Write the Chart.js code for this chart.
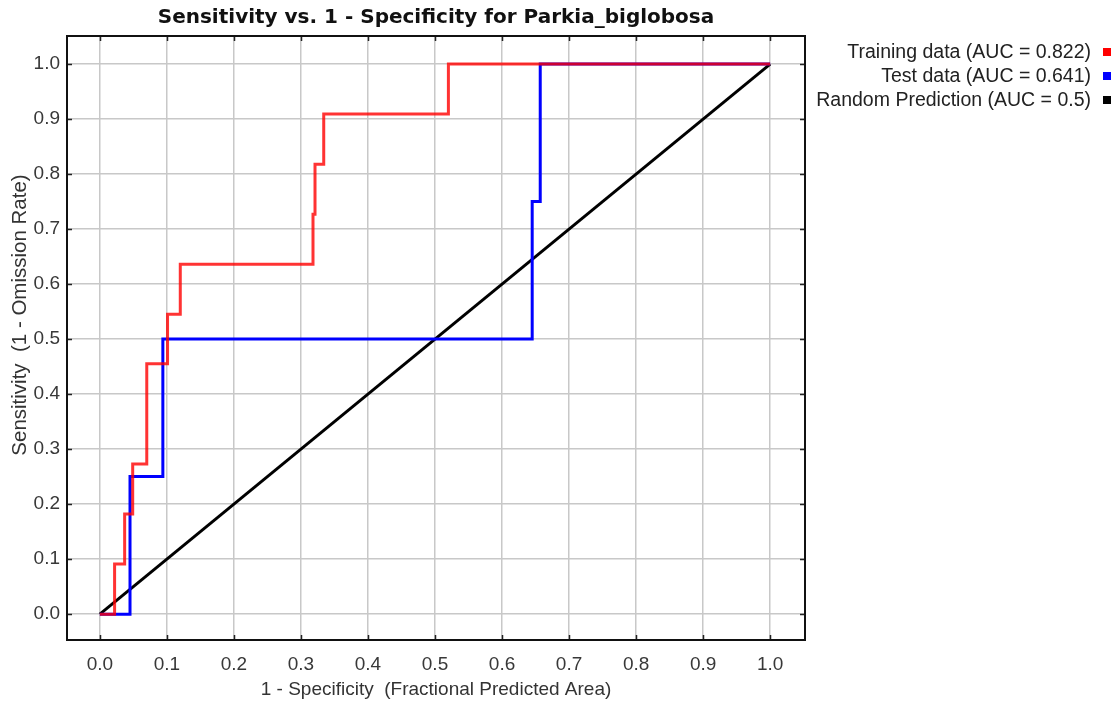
<!DOCTYPE html>
<html>
<head>
<meta charset="utf-8">
<script src="https://cdn.jsdelivr.net/npm/chart.js@4.4.1/dist/chart.umd.min.js"></script>
<style>
  html, body { margin: 0; padding: 0; background: #fff; }
  #wrap { width: 1119px; height: 704px; }
</style>
</head>
<body>
<div id="wrap"><canvas id="roc"></canvas></div>
<script>
// curvas ROC (esquinas de los escalones)
const trainFpr = [0, 0.022, 0.022, 0.037, 0.037, 0.049, 0.049, 0.070, 0.070, 0.101, 0.101, 0.120, 0.120, 0.318, 0.318, 0.321, 0.321, 0.334, 0.334, 0.520, 0.520, 1.0];
const trainTpr = [0, 0, 0.091, 0.091, 0.182, 0.182, 0.273, 0.273, 0.455, 0.455, 0.545, 0.545, 0.636, 0.636, 0.727, 0.727, 0.818, 0.818, 0.909, 0.909, 1.0, 1.0];
const testFpr = [0, 0.045, 0.045, 0.094, 0.094, 0.645, 0.645, 0.657, 0.657, 1.0];
const testTpr = [0, 0, 0.25, 0.25, 0.5, 0.5, 0.75, 0.75, 1.0, 1.0];
const randomFpr = [0, 1];
const randomTpr = [0, 1];
const tickValues = [0, 0.1, 0.2, 0.3, 0.4, 0.5, 0.6, 0.7, 0.8, 0.9, 1.0];
const seriesLabels = ['Training data (AUC = 0.822)', 'Test data (AUC = 0.641)', 'Random Prediction (AUC = 0.5)'];
const chartTitle = 'Sensitivity vs. 1 - Specificity for Parkia_biglobosa';
const xTitle = '1 - Specificity  (Fractional Predicted Area)';
const yTitle = 'Sensitivity  (1 - Omission Rate)';

const FONT = "'Liberation Sans', Arial, sans-serif";

function puntos(xs, ys) {
    return xs.map((x, i) => ({ x: x, y: ys[i] }));
}

// titulo, marco, marcas interiores, titulos de ejes y leyenda
const decoracion = {
    id: 'decoracion',
    afterDraw(chart) {
        const ctx = chart.ctx;
        const a = chart.chartArea;
        const sx = chart.scales.x, sy = chart.scales.y;
        ctx.save();
        // marcas hacia dentro
        ctx.strokeStyle = '#222';
        ctx.lineWidth = 1.5;
        ctx.beginPath();
        tickValues.forEach(v => {
            const px = Math.round(sx.getPixelForValue(v)) + 0.5;
            ctx.moveTo(px, a.bottom); ctx.lineTo(px, a.bottom - 5);
            ctx.moveTo(px, a.top); ctx.lineTo(px, a.top + 5);
            const py = Math.round(sy.getPixelForValue(v)) + 0.5;
            ctx.moveTo(a.left, py); ctx.lineTo(a.left + 5, py);
            ctx.moveTo(a.right, py); ctx.lineTo(a.right - 5, py);
        });
        ctx.stroke();
        // marco
        ctx.lineWidth = 2;
        ctx.strokeStyle = '#111';
        ctx.strokeRect(a.left, a.top, a.right - a.left, a.bottom - a.top);
        // titulo
        ctx.fillStyle = '#111';
        ctx.font = "bold 20px 'DejaVu Sans', sans-serif";
        ctx.textAlign = 'center';
        ctx.textBaseline = 'middle';
        ctx.fillText(chartTitle, (a.left + a.right) / 2, 18);
        // titulos de ejes
        ctx.fillStyle = '#333';
        ctx.font = '19px ' + FONT;
        ctx.fillText(xTitle, (a.left + a.right) / 2, 690);
        ctx.save();
        ctx.translate(20, 315);
        ctx.rotate(-Math.PI / 2);
        ctx.font = '20.5px ' + FONT;
        ctx.fillText(yTitle, 0, 0);
        ctx.restore();
        // leyenda
        ctx.font = '19.5px ' + FONT;
        ctx.textAlign = 'right';
        chart.data.datasets.forEach((ds, i) => {
            const y = 53 + i * 24;
            ctx.fillStyle = '#222';
            ctx.fillText(ds.label, 1091, y);
            ctx.fillStyle = ds.legendColor;
            ctx.fillRect(1103, y - 5, 8, 8);
        });
        ctx.restore();
    }
};

const ctx = document.getElementById('roc').getContext('2d');
new Chart(ctx, {
    type: 'line',
    data: {
        datasets: [{
            label: seriesLabels[0],
            data: puntos(trainFpr, trainTpr),
            borderColor: 'rgba(255, 0, 0, 0.8)',
            legendColor: '#ff0000',
            borderWidth: 3,
            pointRadius: 0,
            tension: 0
        }, {
            label: seriesLabels[1],
            data: puntos(testFpr, testTpr),
            borderColor: '#0000ff',
            legendColor: '#0000ff',
            borderWidth: 3,
            pointRadius: 0,
            tension: 0
        }, {
            label: seriesLabels[2],
            data: puntos(randomFpr, randomTpr),
            borderColor: '#000000',
            legendColor: '#000000',
            borderWidth: 3,
            pointRadius: 0,
            tension: 0
        }]
    },
    options: {
        responsive: true,
        maintainAspectRatio: false,
        animation: false,
        layout: { padding: { top: 36, right: 314, left: 0, bottom: 0 } },
        scales: {
            x: {
                type: 'linear',
                min: -0.049,
                max: 1.052,
                afterBuildTicks: s => { s.ticks = tickValues.map(v => ({ value: v })); },
                afterFit: s => { s.height = 64; },
                grid: { color: '#c8c8c8', lineWidth: 1.5, drawTicks: false },
                border: { display: false },
                ticks: {
                    padding: 13,
                    color: '#383838',
                    font: { family: FONT, size: 19 },
                    callback: v => v.toFixed(1)
                }
            },
            y: {
                type: 'linear',
                min: -0.047,
                max: 1.051,
                afterBuildTicks: s => { s.ticks = tickValues.map(v => ({ value: v })); },
                afterFit: s => { s.width = 67; },
                grid: { color: '#c8c8c8', lineWidth: 1.5, drawTicks: false },
                border: { display: false },
                ticks: {
                    padding: 7,
                    color: '#383838',
                    font: { family: FONT, size: 19 },
                    callback: v => v.toFixed(1)
                }
            }
        },
        plugins: {
            legend: { display: false },
            title: { display: false },
            tooltip: { enabled: false }
        }
    },
    plugins: [decoracion]
});
</script>
</body>
</html>
